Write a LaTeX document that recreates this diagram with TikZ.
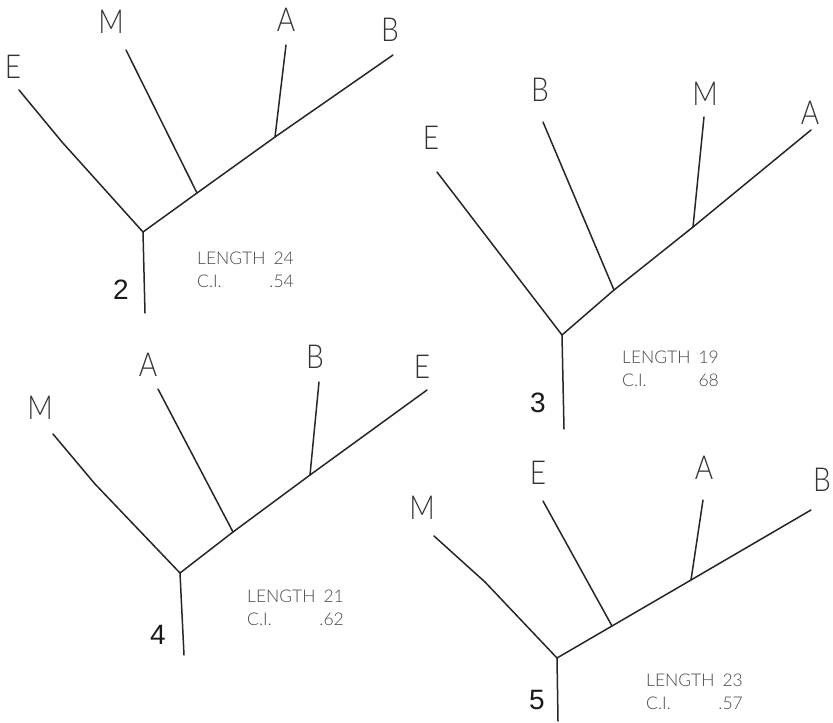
\documentclass[tikz,border=0pt]{standalone}
\usepackage{fontspec}
\IfFontExistsTF{Lato Light}{\newfontfamily\labfont{Lato Light}}{\newfontfamily\labfont{Liberation Sans}}
\newfontfamily\numfont{Liberation Sans}
\begin{document}
\begin{tikzpicture}[x=1pt,y=-1pt,
  branch/.style={line width=1.5pt,line cap=round,line join=round,draw=black!85},
  taxon/.style={font=\labfont\fontsize{33}{33}\selectfont,text=black!80,inner sep=0pt,xscale=0.85},
  treenum/.style={font=\numfont\fontsize{28}{28}\selectfont,text=black!90,inner sep=0pt},
  stat/.style={font=\labfont\fontsize{17.5}{17.5}\selectfont,text=black!72,inner sep=0pt}]
\useasboundingbox (0,0) rectangle (833,723);

% ---------- Tree 2 ----------
\coordinate (r2) at (143,232);
\coordinate (s2) at (145,313);
\coordinate (e2) at (19,90);
\coordinate (k2) at (62,142);
\coordinate (m2) at (126,50);
\coordinate (jm2) at (197,193);
\coordinate (a2) at (286,45);
\coordinate (ja2) at (275,137);
\coordinate (b2) at (393,55);
\draw[branch] (s2) -- (r2) -- (k2) -- (e2);
\draw[branch] (r2) -- (jm2) -- (ja2) -- (b2);
\draw[branch] (jm2) -- (m2);
\draw[branch] (ja2) -- (a2);
\node[taxon] (le2) at (13,67) {E};
\node[taxon] (lm2) at (111,22) {M};
\node[taxon] (la2) at (286,20) {A};
\node[taxon] (lb2) at (390,30) {B};
\node[treenum] (n2) at (121,290) {2};
\node[stat,anchor=west] (len2) at (197,258) {LENGTH\hspace{8pt}24};
\node[stat,anchor=west] (ci2) at (197,281) {C.I.};
\node[stat,anchor=east] (civ2) at (len2.east |- ci2) {.54};

% ---------- Tree 3 ----------
\coordinate (r3) at (562,335);
\coordinate (s3) at (564,429);
\coordinate (e3) at (437,172);
\coordinate (b3) at (543,122);
\coordinate (jb3) at (614,290);
\coordinate (m3) at (704,117);
\coordinate (jm3) at (693,227);
\coordinate (a3) at (811,130);
\draw[branch] (s3) -- (r3) -- (e3);
\draw[branch] (r3) -- (jb3) -- (jm3) -- (a3);
\draw[branch] (jb3) -- (b3);
\draw[branch] (jm3) -- (m3);
\node[taxon] (le3) at (431,138) {E};
\node[taxon] (lb3) at (540,90) {B};
\node[taxon] (lm3) at (705,94) {M};
\node[taxon] (la3) at (810,113) {A};
\node[treenum] (n3) at (538,403) {3};
\node[stat,anchor=west] (len3) at (622,357) {LENGTH\hspace{8pt}19};
\node[stat,anchor=west] (ci3) at (622,380) {C.I.};
\node[stat,anchor=east] (civ3) at (len3.east |- ci3) {68};

% ---------- Tree 4 ----------
\coordinate (r4) at (180,573);
\coordinate (s4) at (184,655);
\coordinate (m4) at (53,434);
\coordinate (k4) at (95,484);
\coordinate (a4) at (158,389);
\coordinate (ja4) at (233,532);
\coordinate (b4) at (319,382);
\coordinate (jb4) at (310,475);
\coordinate (e4) at (427,390);
\draw[branch] (s4) -- (r4) -- (k4) -- (m4);
\draw[branch] (r4) -- (ja4) -- (jb4) -- (e4);
\draw[branch] (ja4) -- (a4);
\draw[branch] (jb4) -- (b4);
\node[taxon] (lm4) at (40,408) {M};
\node[taxon] (la4) at (148,365) {A};
\node[taxon] (lb4) at (315,357) {B};
\node[taxon] (le4) at (422,367) {E};
\node[treenum] (n4) at (158,635) {4};
\node[stat,anchor=west] (len4) at (247,596) {LENGTH\hspace{8pt}21};
\node[stat,anchor=west] (ci4) at (247,619) {C.I.};
\node[stat,anchor=east] (civ4) at (len4.east |- ci4) {.62};

% ---------- Tree 5 ----------
\coordinate (r5) at (557,658);
\coordinate (s5) at (558,721);
\coordinate (m5) at (434,536);
\coordinate (k5) at (485,582);
\coordinate (e5) at (543,501);
\coordinate (je5) at (612,626);
\coordinate (a5) at (703,500);
\coordinate (ja5) at (691,580);
\coordinate (b5) at (811,510);
\draw[branch] (s5) -- (r5) -- (k5) -- (m5);
\draw[branch] (r5) -- (je5) -- (ja5) -- (b5);
\draw[branch] (je5) -- (e5);
\draw[branch] (ja5) -- (a5);
\node[taxon] (lm5) at (422,508) {M};
\node[taxon] (le5) at (538,473) {E};
\node[taxon] (la5) at (704,468) {A};
\node[taxon] (lb5) at (822,480) {B};
\node[treenum] (n5) at (537,700) {5};
\node[stat,anchor=west] (len5) at (646,680) {LENGTH\hspace{8pt}23};
\node[stat,anchor=west] (ci5) at (646,703) {C.I.};
\node[stat,anchor=east] (civ5) at (len5.east |- ci5) {.57};
\end{tikzpicture}
\end{document}
